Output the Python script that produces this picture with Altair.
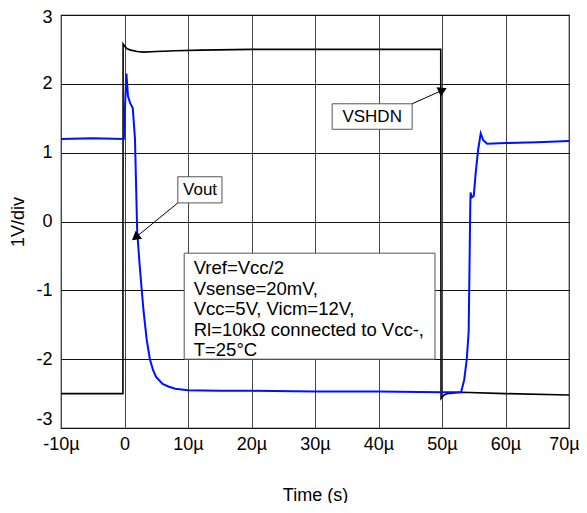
import altair as alt
import pandas as pd

# ---- data (time in microseconds, volts) ----
vshdn_t = [-10, -0.25, -0.22, 0.1, 0.4, 1.0, 2.0, 3.0, 5.0, 8.0, 12, 20, 30, 40, 49.8, 49.85, 50.2, 50.8, 53, 60, 70]
vshdn_v = [-2.5, -2.5, 2.58, 2.54, 2.51, 2.49, 2.47, 2.46, 2.47, 2.48, 2.49, 2.5, 2.5, 2.5, 2.5, -2.57, -2.53, -2.5, -2.48, -2.5, -2.52]

vout_t = [-10, -5, -0.1, 0.05, 0.3, 0.55, 0.9, 1.3, 1.65, 2.0, 2.4, 3.0, 3.5, 4.0, 4.5, 5.0, 6.0, 7.0, 8.0, 10, 15, 20,
          30, 40, 50, 53.0, 53.5, 53.9, 54.2, 54.45, 54.5, 54.7, 55.0, 55.3, 55.7, 56.1, 56.5, 57.1, 60, 65, 70]
vout_v = [1.2, 1.21, 1.2, 1.6, 2.15, 1.82, 1.72, 1.65, 1.2, -0.15, -0.65, -1.3, -1.72, -2.0, -2.16, -2.26, -2.36, -2.4, -2.43, -2.45, -2.46, -2.46,
          -2.47, -2.47, -2.48, -2.48, -2.3, -2.0, -1.6, 0.2, 0.42, 0.35, 0.37, 0.7, 1.05, 1.28, 1.18, 1.13, 1.14, 1.15, 1.17]

x_ticks = [-10, 0, 10, 20, 30, 40, 50, 60, 70]
y_ticks = [-3, -2, -1, 0, 1, 2, 3]

# annotation boxes (data coordinates)
box_t = [32.7, 8.4, 9.4]
box_t2 = [45.3, 15.35, 48.9]
box_v = [1.71, 0.65, -0.46]
box_v2 = [1.34, 0.27, -2.0]

label_text = ["VSHDN", "Vout"]
label_t = [39.0, 11.9]
label_v = [1.525, 0.46]

arrow_t = [45.3, 8.4]
arrow_v = [1.71, 0.27]
arrow_t2 = [49.9, 1.9]
arrow_v2 = [1.9, -0.22]
arrow_angle = [65, 231]

info_lines = ["Vref=Vcc/2", "Vsense=20mV,", "Vcc=5V, Vicm=12V,", "Rl=10k\u03a9 connected to Vcc-,", "T=25\u00b0C"]
info_t = 10.9
info_v = [-0.676, -0.981, -1.271, -1.576, -1.867]

FONT = "Liberation Sans"

df_sh = pd.DataFrame({"t": vshdn_t, "v": vshdn_v})
df_out = pd.DataFrame({"t": vout_t, "v": vout_v})
df_box = pd.DataFrame({"t": box_t, "t2": box_t2, "v": box_v, "v2": box_v2})
df_lab = pd.DataFrame({"t": label_t, "v": label_v, "txt": label_text})
df_arr = pd.DataFrame({"t": arrow_t, "v": arrow_v, "t2": arrow_t2, "v2": arrow_v2, "ang": arrow_angle})
df_info = pd.DataFrame({"t": [info_t] * len(info_lines), "v": info_v, "txt": info_lines})

xs = alt.Scale(domain=[-10, 70], nice=False, zero=False)
ys = alt.Scale(domain=[-3, 3], nice=False, zero=False)

x_axis = alt.Axis(values=x_ticks, title="Time (s)", grid=True, gridColor="#444", gridWidth=1,
                  ticks=False, domain=False, labelPadding=7, titlePadding=33, labelFlush=False,
                  labelExpr="datum.value == 0 ? '0' : datum.value + '\u00b5'",
                  labelOffset={"condition": {"test": "datum.value == 70", "value": -5}, "value": 0},
                  labelFont=FONT, titleFont=FONT, labelFontSize=18, titleFontSize=18,
                  titleFontWeight="normal", labelColor="black", titleColor="black")
y_axis = alt.Axis(values=y_ticks, title="1V/div", grid=True, gridColor="#111", gridWidth=1,
                  ticks=False, domain=False, labelPadding=9, titlePadding=8,
                  labelExpr="datum.value + ''",
                  labelOffset={"condition": [{"test": "datum.value == -3", "value": -9},
                                             {"test": "datum.value == 3", "value": 2}], "value": 0},
                  labelFont=FONT, titleFont=FONT, labelFontSize=18, titleFontSize=18,
                  titleFontWeight="normal", labelColor="black", titleColor="black")

sh = alt.Chart(df_sh).mark_line(color="black", strokeWidth=1.6).encode(
    x=alt.X("t:Q", scale=xs, axis=x_axis), y=alt.Y("v:Q", scale=ys, axis=y_axis))
out = alt.Chart(df_out).mark_line(color="#0010ff", strokeWidth=2).encode(
    x=alt.X("t:Q", scale=xs), y=alt.Y("v:Q", scale=ys))

boxes = alt.Chart(df_box).mark_rect(fill="white", stroke="#555", strokeWidth=1).encode(
    x="t:Q", x2="t2:Q", y="v:Q", y2="v2:Q")
labels = alt.Chart(df_lab).mark_text(font=FONT, fontSize=17, color="black").encode(
    x="t:Q", y="v:Q", text="txt:N")
arrows = alt.Chart(df_arr).mark_rule(color="black", strokeWidth=1).encode(
    x="t:Q", y="v:Q", x2="t2:Q", y2="v2:Q")
heads = alt.Chart(df_arr).mark_point(shape="triangle", filled=True, fill="black", stroke="black",
                                     size=45, opacity=1).encode(
    x="t2:Q", y="v2:Q", angle=alt.Angle("ang:Q", scale=None))
info = alt.Chart(df_info).mark_text(font=FONT, fontSize=18.5, color="black", align="left").encode(
    x="t:Q", y="v:Q", text="txt:N")

chart = alt.layer(sh, out, boxes, labels, arrows, heads, info).properties(
    width=508, height=413,
    autosize=alt.AutoSizeParams(type="none"),
    padding={"left": 53, "top": 7, "right": 10, "bottom": 75},
).configure_view(stroke="black", strokeWidth=1.2)

chart.save("out.html", embed_options={"renderer": "svg", "actions": False})
